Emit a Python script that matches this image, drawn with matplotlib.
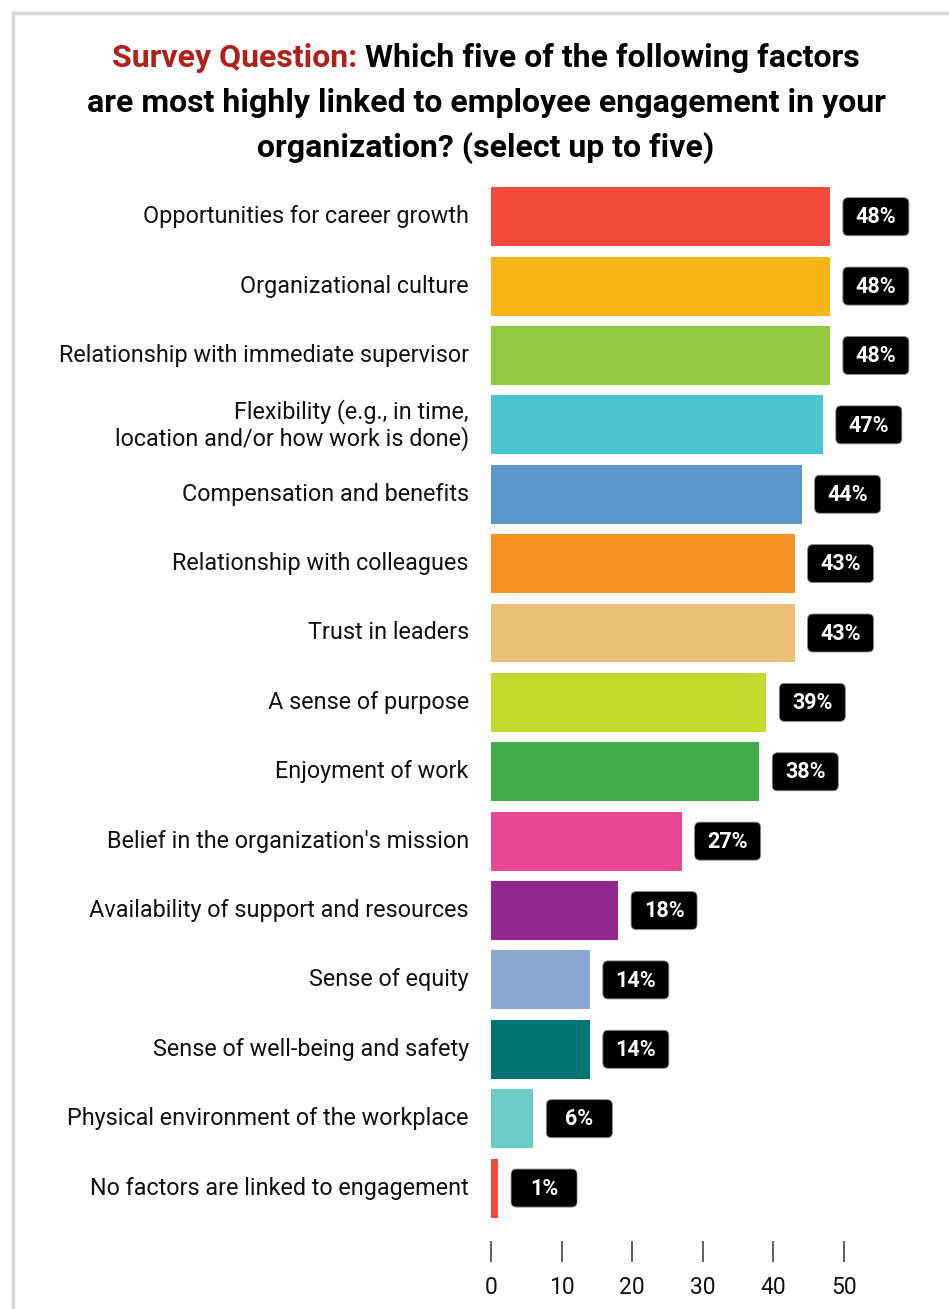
import matplotlib.pyplot as plt
from matplotlib.patches import FancyBboxPatch
from matplotlib.lines import Line2D

plt.rcParams['font.family'] = ['Roboto', 'DejaVu Sans']

factors = [
    "Opportunities for career growth",
    "Organizational culture",
    "Relationship with immediate supervisor",
    "Flexibility (e.g., in time,\nlocation and/or how work is done)",
    "Compensation and benefits",
    "Relationship with colleagues",
    "Trust in leaders",
    "A sense of purpose",
    "Enjoyment of work",
    "Belief in the organization's mission",
    "Availability of support and resources",
    "Sense of equity",
    "Sense of well-being and safety",
    "Physical environment of the workplace",
    "No factors are linked to engagement",
]
pct = [48, 48, 48, 47, 44, 43, 43, 39, 38, 27, 18, 14, 14, 6, 1]
colors = ["#F04B3C", "#F9B418", "#95C93F", "#4BC4D4", "#5B96CD", "#F69322",
          "#EBBE78", "#C2D92E", "#42AD4A", "#EA4697", "#92278F", "#8BA8D0",
          "#007472", "#6CCBC6", "#F04B3C"]
ticks = [0, 10, 20, 30, 40, 50]

W, H = 949, 1309
fig = plt.figure(figsize=(W / 100, H / 100), dpi=100)

# light frame on the top and left edges
fig.add_artist(Line2D([13 / W, 13 / W], [0, 1 - 13 / H], color="#DCD6D6", lw=2.5))
fig.add_artist(Line2D([13 / W, 1], [1 - 13 / H, 1 - 13 / H], color="#DCD6D6", lw=2.5))

ax = fig.add_axes([491 / W, 1 - 1241 / H, 438 / W, (1241 - 182) / H])
y = list(range(len(pct)))
ax.barh(y, pct, height=0.85, color=colors)
ax.set_xlim(0, 438 / 7.06)
ax.set_ylim(14.763, -0.5)

# value badges: fixed-size rounded black boxes next to each bar
bw, bh = 66 / 7.06, 38 / 69.36
for yi, v in zip(y, pct):
    x0 = v + 13 / 7.06
    box = FancyBboxPatch((x0, yi - bh / 2), bw, bh,
                         boxstyle="round,pad=0,rounding_size=0.75",
                         mutation_aspect=0.1018, fc="black", ec="#8a8a8a",
                         lw=0.6, clip_on=False)
    ax.add_patch(box)
    ax.text(x0 + bw / 2, yi + 0.01, f"{v}%", ha="center", va="center",
            color="white", fontsize=15.5, fontweight="bold")

ax.set_yticks(y)
ax.set_yticklabels(factors, fontsize=16.8, color="#111111", linespacing=1.12,
                   va="center")
ax.tick_params(axis="y", length=0, pad=16)
ax.set_xticks(ticks)
ax.tick_params(axis="x", length=15, width=1.2, color="#444444", pad=10,
               labelsize=16.5, labelcolor="#111111")
for s in ax.spines.values():
    s.set_visible(False)

# title with the red lead-in on the first line
cx = 486 / W
ts = 23
fig.canvas.draw()
r = fig.canvas.get_renderer()
red_part = "Survey Question: "
rest = "Which five of the following factors"
probe = fig.text(cx, 1 - 58 / H, red_part + rest, fontsize=ts, fontweight="bold",
                 ha="center", va="center", alpha=0)
full_w = probe.get_window_extent(r).width / (W)
probe.remove()
t1 = fig.text(cx - full_w / 2, 1 - 58 / H, red_part, fontsize=ts, fontweight="bold",
              color="#B0211B", ha="left", va="center")
fig.canvas.draw()
t1w = t1.get_window_extent(r).width / W
fig.text(cx - full_w / 2 + t1w, 1 - 58 / H, rest, fontsize=ts, fontweight="bold",
         color="black", ha="left", va="center")
fig.text(cx, 1 - 103 / H, "are most highly linked to employee engagement in your",
         fontsize=ts, fontweight="bold", ha="center", va="center")
fig.text(cx, 1 - 148 / H, "organization? (select up to five)",
         fontsize=ts, fontweight="bold", ha="center", va="center")

fig.savefig("out.png", dpi=100)
